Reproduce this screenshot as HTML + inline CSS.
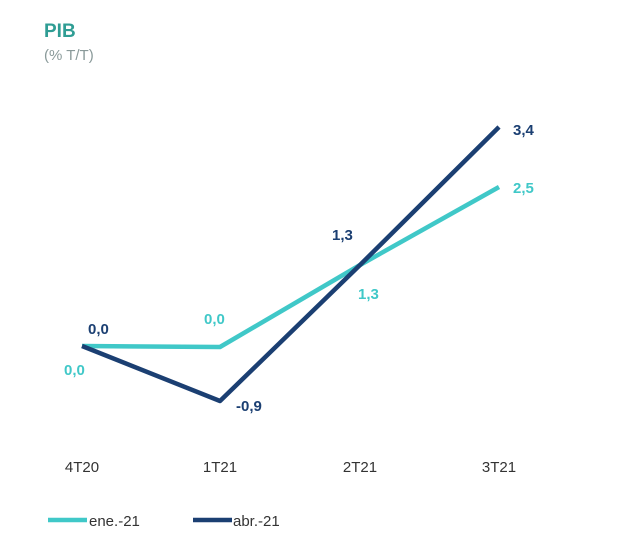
<!DOCTYPE html>
<html><head><meta charset="utf-8"><style>
body{margin:0;background:#fff;width:640px;height:538px;overflow:hidden;font-family:"Liberation Sans",sans-serif}
</style></head><body>
<svg width="640" height="538" xmlns="http://www.w3.org/2000/svg" font-family="Liberation Sans, sans-serif">
<text x="44" y="37" font-size="19" font-weight="bold" fill="#2f9d94">PIB</text>
<text x="44" y="60" font-size="15" fill="#8a9a9a">(% T/T)</text>
<polyline points="82,346 220,347 360,265 499,187" fill="none" stroke="#40c8c8" stroke-width="4.5" stroke-linejoin="round"/>
<polyline points="82,346 220,401 360,265 499,127" fill="none" stroke="#1b3f72" stroke-width="4.5" stroke-linejoin="round"/>
<g font-size="15" font-weight="bold" fill="#1b3f72">
<text x="88" y="334">0,0</text>
<text x="236" y="411">-0,9</text>
<text x="332" y="240">1,3</text>
<text x="513" y="135">3,4</text>
</g>
<g font-size="15" font-weight="bold" fill="#40c8c8">
<text x="64" y="375">0,0</text>
<text x="204" y="324">0,0</text>
<text x="358" y="299">1,3</text>
<text x="513" y="193">2,5</text>
</g>
<g font-size="15" fill="#333" text-anchor="middle">
<text x="82" y="472">4T20</text>
<text x="220" y="472">1T21</text>
<text x="360" y="472">2T21</text>
<text x="499" y="472">3T21</text>
</g>
<line x1="48" y1="520" x2="87" y2="520" stroke="#40c8c8" stroke-width="4.5"/>
<text x="89" y="526" font-size="15" fill="#333">ene.-21</text>
<line x1="193" y1="520" x2="232" y2="520" stroke="#1b3f72" stroke-width="4.5"/>
<text x="233" y="526" font-size="15" fill="#333">abr.-21</text>
</svg>
</body></html>
